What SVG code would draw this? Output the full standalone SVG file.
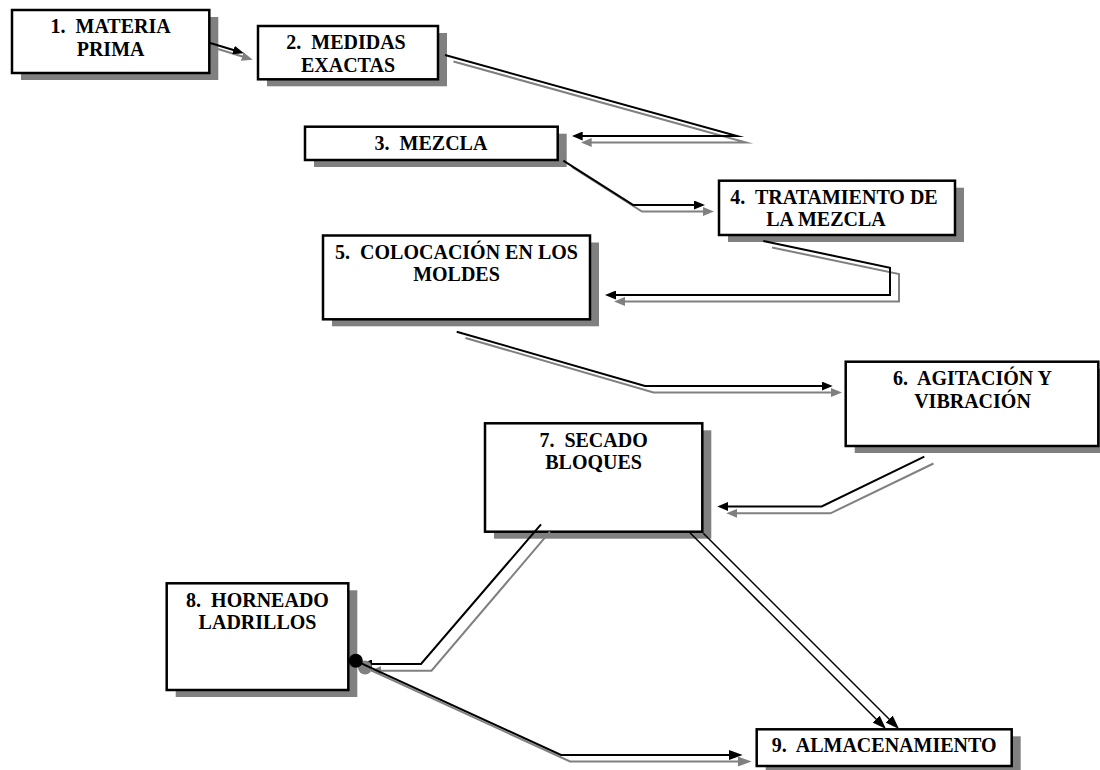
<svg xmlns="http://www.w3.org/2000/svg" width="1100" height="770" viewBox="0 0 1100 770">
<style>
.shadow{fill:#808080;stroke:none}
.box{fill:#ffffff;stroke:#000000;stroke-width:2.5}
.lbl{font-family:'Liberation Serif','Times New Roman',serif;font-weight:700;font-size:20px;fill:#000000;text-anchor:middle}
.cb{fill:none;stroke:#000000;stroke-width:2;stroke-linejoin:miter;stroke-miterlimit:10}
.cg{fill:none;stroke:#808080;stroke-width:2;stroke-linejoin:miter;stroke-miterlimit:10}
.cd{fill:none;stroke:#000000;stroke-width:1.5}
</style>
<defs>
<marker id="aB" markerUnits="userSpaceOnUse" markerWidth="11" markerHeight="9" refX="6" refY="4.5" orient="auto"><path d="M0,0 L11,4.5 L0,9 Z" fill="#000000"/></marker>
<marker id="aG" markerUnits="userSpaceOnUse" markerWidth="11" markerHeight="9" refX="6" refY="4.5" orient="auto"><path d="M0,0 L11,4.5 L0,9 Z" fill="#808080"/></marker>
<marker id="aBL" markerUnits="userSpaceOnUse" markerWidth="14" markerHeight="10" refX="9" refY="5" orient="auto"><path d="M0,0 L14,5 L0,10 Z" fill="#000000"/></marker>
<marker id="aGL" markerUnits="userSpaceOnUse" markerWidth="14" markerHeight="10" refX="9" refY="5" orient="auto"><path d="M0,0 L14,5 L0,10 Z" fill="#808080"/></marker>
</defs>
<rect x="0" y="0" width="1100" height="770" fill="#ffffff"/>

<g id="node1">
<rect class="shadow" x="21" y="17" width="197.3" height="63"/>
<rect class="box" x="12" y="10" width="197.3" height="63"/>
<text class="lbl" xml:space="preserve" x="110.6" y="33">1.  MATERIA</text>
<text class="lbl" x="110.6" y="55.5">PRIMA</text>
</g>
<g id="node2">
<rect class="shadow" x="267" y="33" width="180" height="53.3"/>
<rect class="box" x="258" y="26" width="180" height="53.3"/>
<text class="lbl" xml:space="preserve" x="346" y="49">2.  MEDIDAS</text>
<text class="lbl" x="348" y="71.5">EXACTAS</text>
</g>
<g id="node3">
<rect class="shadow" x="314" y="133.7" width="252.7" height="33.3"/>
<rect class="box" x="305" y="126.7" width="252.7" height="33.3"/>
<text class="lbl" xml:space="preserve" x="431" y="149.5">3.  MEZCLA</text>
</g>
<g id="node4">
<rect class="shadow" x="728" y="187.7" width="236" height="54.3"/>
<rect class="box" x="719" y="180.7" width="236" height="54.3"/>
<text class="lbl" xml:space="preserve" x="834" y="203.5">4.  TRATAMIENTO DE</text>
<text class="lbl" x="826" y="226">LA MEZCLA</text>
</g>
<g id="node5">
<rect class="shadow" x="332" y="242.5" width="267" height="83.8"/>
<rect class="box" x="323" y="235.5" width="267" height="83.8"/>
<text class="lbl" xml:space="preserve" x="456.5" y="258.5">5.  COLOCACIÓN EN LOS</text>
<text class="lbl" x="456.5" y="281">MOLDES</text>
</g>
<g id="node6">
<rect class="shadow" x="854.7" y="368.7" width="252.6" height="84.3"/>
<rect class="box" x="845.7" y="361.7" width="252.6" height="84.3"/>
<text class="lbl" xml:space="preserve" x="972.5" y="385">6.  AGITACIÓN Y</text>
<text class="lbl" x="972.5" y="407.5">VIBRACIÓN</text>
</g>
<g id="node7">
<rect class="shadow" x="494" y="430.3" width="217.3" height="108.4"/>
<rect class="box" x="485" y="423.3" width="217.3" height="108.4"/>
<text class="lbl" xml:space="preserve" x="593.6" y="446.5">7.  SECADO</text>
<text class="lbl" x="593.6" y="469">BLOQUES</text>
</g>
<g id="node8">
<rect class="shadow" x="175.7" y="590.3" width="181.6" height="106.7"/>
<rect class="box" x="166.7" y="583.3" width="181.6" height="106.7"/>
<text class="lbl" xml:space="preserve" x="257.5" y="606.5">8.  HORNEADO</text>
<text class="lbl" x="257.5" y="629">LADRILLOS</text>
</g>
<g id="node9">
<rect class="shadow" x="765.7" y="736.3" width="255" height="36.7"/>
<rect class="box" x="756.7" y="729.3" width="255" height="36.7"/>
<text class="lbl" xml:space="preserve" x="884.2" y="752">9.  ALMACENAMIENTO</text>
</g>

<g id="connectors">
<path class="cg" d="M218,49 L247.9,58.3" marker-end="url(#aG)"/>
<path class="cb" d="M209.3,42.7 L239.2,51.8" marker-end="url(#aB)"/>
<path class="cg" d="M453.5,61.5 L746,142.5 L585.7,142.5" marker-end="url(#aG)"/>
<path class="cb" d="M445,55 L737,136 L576.7,136" marker-end="url(#aB)"/>
<path class="cg" d="M572,167 L642,211.5 L709,211.5" marker-end="url(#aG)"/>
<path class="cb" d="M563.3,160.7 L633.3,205 L700,205" marker-end="url(#aB)"/>
<path class="cg" d="M772,247.5 L899,274 L899,301.5 L619,301.5" marker-end="url(#aG)"/>
<path class="cb" d="M763.3,241 L890,267.7 L890,295 L610,295" marker-end="url(#aB)"/>
<path class="cg" d="M465.5,338 L653.5,392.5 L837,392.5" marker-end="url(#aG)"/>
<path class="cb" d="M456.7,331.7 L645,386 L827.7,386" marker-end="url(#aB)"/>
<path class="cg" d="M933.5,463.5 L830.5,513.3 L731.3,513.3" marker-end="url(#aG)"/>
<path class="cb" d="M924.3,456.7 L821.7,506.5 L722.3,506.5" marker-end="url(#aB)"/>
<path class="cg" d="M550,531.7 L431.5,670.7 L375,670.7" marker-end="url(#aG)"/>
<path class="cb" d="M541,524.3 L421,664 L366,664" marker-end="url(#aB)"/>
<circle cx="365" cy="667.5" r="7" fill="#808080"/>
<path class="cg" d="M365,667.5 L570,761.5 L746.7,761.5" marker-end="url(#aGL)"/>
<path class="cb" d="M355.8,660.8 L561,755 L737.7,755" marker-end="url(#aBL)"/>
<circle cx="355.8" cy="660.8" r="7" fill="#000000"/>
<path class="cd" d="M703.3,533.3 L895.5,725.5" marker-end="url(#aBL)"/>
<path class="cd" d="M690,532.7 L882.5,725.5" marker-end="url(#aBL)"/>
</g>
</svg>
